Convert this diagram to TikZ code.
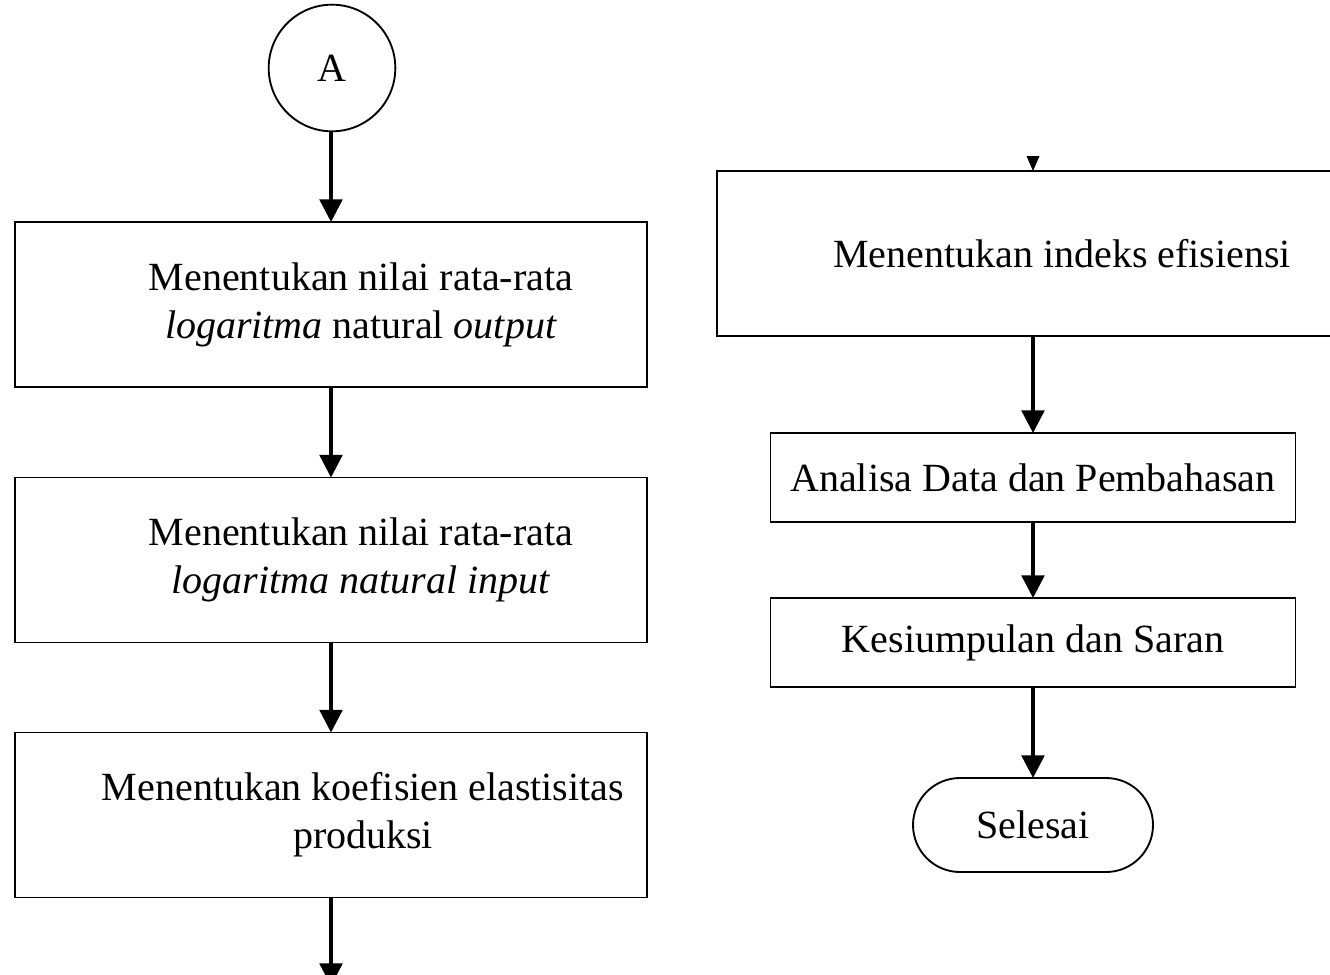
\documentclass[tikz,border=0pt]{standalone}
\usepackage{fontspec}
\setmainfont{Liberation Serif}
\usetikzlibrary{arrows.meta,shapes.misc}
\begin{document}
\begin{tikzpicture}[x=0.75pt,y=-0.75pt,
  every node/.style={inner sep=0pt, outer sep=0pt},
  txt/.style={align=center, font=\fontsize{30}{36}\selectfont},
  bigbox/.style={draw, line width=1pt, minimum width=474pt, minimum height=123.75pt},
  smallbox/.style={draw, line width=1pt, minimum width=393.75pt, minimum height=66.75pt, txt},
  circ/.style={draw, circle, line width=1.4pt, minimum size=95pt, txt},
  term/.style={draw, rounded rectangle, line width=1.4pt, minimum width=180pt, minimum height=70.5pt, txt},
  arr/.style={line width=2.6pt, -{Triangle[length=17pt,width=17pt]}}]
\useasboundingbox (0,0) rectangle (1330,974);
\clip (0,0) rectangle (1330,974);
% left column
\node[circ] (A) at (332,68) {A};
\node[bigbox] (b1) at (331,304.5) {};
\node[txt] (t1) at ([xshift=22.5pt]b1.center) {Menentukan nilai rata-rata\\\textit{logaritma} natural \textit{output}};
\node[bigbox] (b2) at (331,560) {};
\node[txt] (t2) at ([xshift=22.5pt]b2.center) {Menentukan nilai rata-rata\\\textit{logaritma natural input}};
\node[bigbox] (b3) at (331,815) {};
\node[txt] (t3) at ([xshift=24pt]b3.center) {Menentukan koefisien elastisitas\\produksi};
\coordinate (bend) at (331,986);
\draw[arr] (A.south -| b1.north) -- (b1.north);
\draw[arr] (b1.south) -- (b2.north);
\draw[arr] (b2.south) -- (b3.north);
\draw[arr] (b3.south) -- (bend);
% right column
\node[bigbox] (r1) at (1033,253.5) {};
\node[txt] (rt1) at ([xshift=21.75pt]r1.center) {Menentukan indeks efisiensi};
\fill (1026.5,156) -- (1039.5,156) -- (r1.north) -- cycle;
\node[smallbox] (r2) at (1033,477.5) {Analisa Data dan Pembahasan};
\node[smallbox] (r3) at (1033,642.5) {Kesiumpulan dan Saran};
\node[term] (sel) at (1033,825) {Selesai};
\draw[arr] (r1.south) -- (r2.north);
\draw[arr] (r2.south) -- (r3.north);
\draw[arr] (r3.south) -- (sel.north);
\end{tikzpicture}
\end{document}
